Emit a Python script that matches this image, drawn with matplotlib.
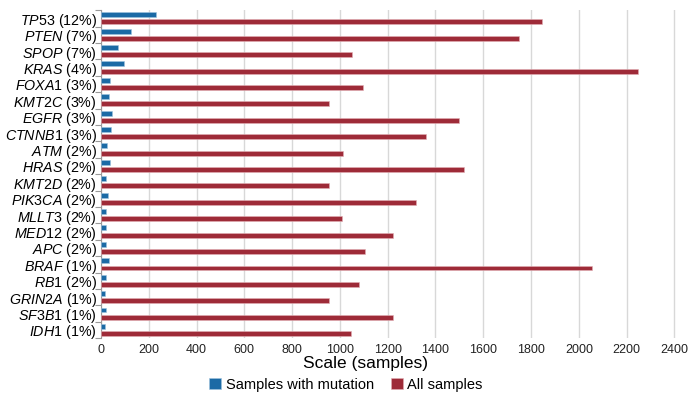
import matplotlib
matplotlib.use("Agg")
import matplotlib.pyplot as plt
import numpy as np

genes = ["TP53", "PTEN", "SPOP", "KRAS", "FOXA1", "KMT2C", "EGFR", "CTNNB1",
         "ATM", "HRAS", "KMT2D", "PIK3CA", "MLLT3", "MED12", "APC", "BRAF",
         "RB1", "GRIN2A", "SF3B1", "IDH1"]
percents = [12, 7, 7, 4, 3, 3, 3, 3, 2, 2, 2, 2, 2, 2, 2, 1, 2, 1, 1, 1]
mutated = [229, 126, 72, 95, 37, 33, 47, 40, 26, 36,
           22, 28, 21, 21, 20, 32, 20, 18, 20, 18]
all_samples = [1846, 1750, 1051, 2248, 1096, 954, 1499, 1361, 1012, 1519,
               954, 1318, 1010, 1221, 1107, 2054, 1079, 954, 1221, 1045]
x_ticks = list(range(0, 2401, 200))

BLUE = "#1b6aa5"
RED = "#9e2b38"

plt.rcParams["font.family"] = ["Liberation Sans", "DejaVu Sans"]
plt.rcParams["mathtext.fontset"] = "custom"
plt.rcParams["mathtext.it"] = "Liberation Sans:italic"
plt.rcParams["mathtext.rm"] = "Liberation Sans"

fig = plt.figure(figsize=(6.92, 4.05), dpi=100)
ax = fig.add_axes([0.146, 0.165, 0.832, 0.81])

y = np.arange(len(genes))
ax.barh(y - 0.22, mutated, height=0.3, color=BLUE, label="Samples with mutation",
        edgecolor="#9fc3de", linewidth=0.4, zorder=3)
ax.barh(y + 0.22, all_samples, height=0.3, color=RED, label="All samples",
        edgecolor="#e3b0b5", linewidth=0.4, zorder=3)

ax.set_ylim(len(genes) - 0.5, -0.5)
ax.set_xlim(0, 2410)
ax.set_xticks(x_ticks)
ax.tick_params(axis="x", labelsize=9, length=0, pad=4, colors="#222222")

labels = [f"$\\mathit{{{g}}}$ ({p}%)" for g, p in zip(genes, percents)]
ax.set_yticks(y)
ax.set_yticklabels(labels, fontsize=10.3)
ax.tick_params(axis="y", length=0, pad=3)
ax.set_yticks(np.arange(len(genes) + 1) - 0.5, minor=True)
ax.tick_params(axis="y", which="minor", length=4, color="#999999", width=0.8)

ax.grid(axis="x", color="#d8d8d8", linewidth=1, zorder=0)
for s in ["top", "right", "bottom"]:
    ax.spines[s].set_visible(False)
ax.spines["left"].set_color("#999999")
ax.spines["left"].set_linewidth(0.8)

ax.set_xlabel("Scale (samples)", fontsize=12.5)
ax.xaxis.set_label_coords(0.46, -0.055)

fig.legend(loc="lower center", bbox_to_anchor=(0.5, 0.0), ncol=2, frameon=False,
           fontsize=10.5, handlelength=0.8, handleheight=0.8, handletextpad=0.3,
           columnspacing=1.2)

fig.savefig("out.png", dpi=100)
